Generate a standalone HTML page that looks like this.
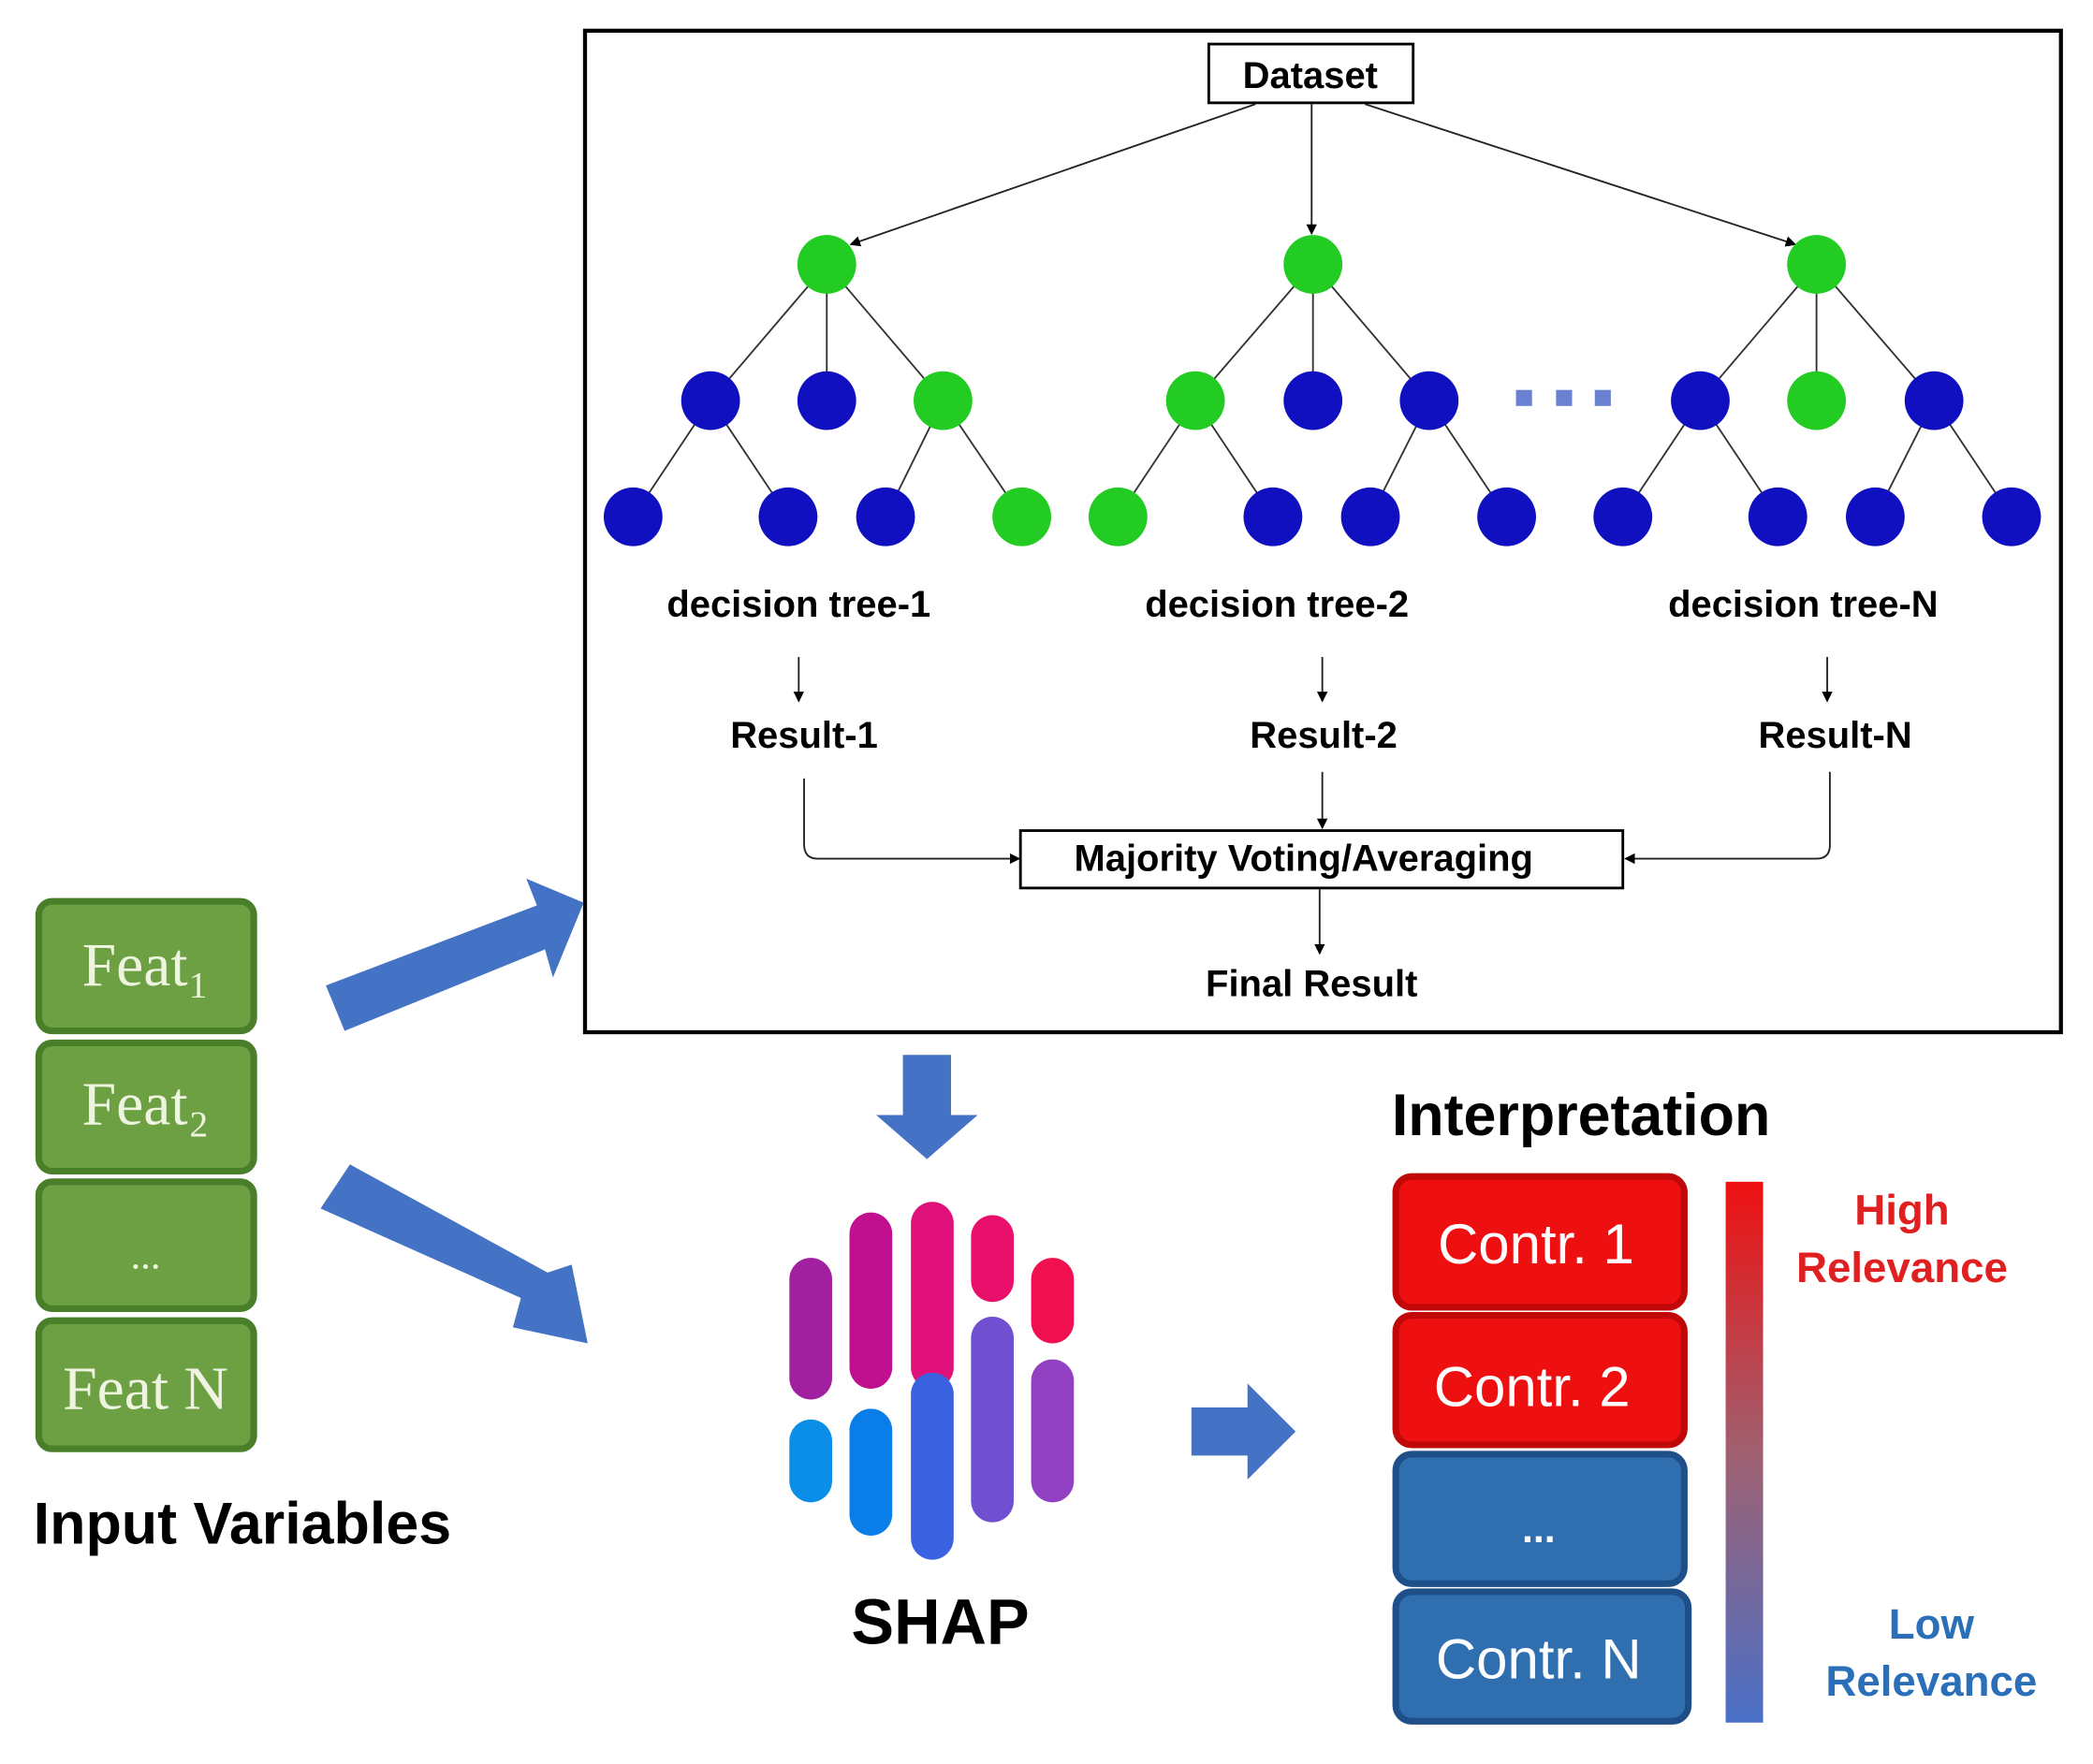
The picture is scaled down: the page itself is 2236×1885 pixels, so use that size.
<!DOCTYPE html>
<html><head><meta charset="utf-8"><style>
html,body{margin:0;padding:0;background:#fff;}
svg{display:block;}
</style></head><body>
<svg width="2236" height="1885" viewBox="0 0 1567 1321" preserveAspectRatio="none" xmlns="http://www.w3.org/2000/svg" font-family="Liberation Sans, sans-serif">
<defs>
<marker id="ah" markerWidth="8" markerHeight="8" refX="7" refY="4" orient="auto" markerUnits="userSpaceOnUse"><path d="M0,0 L8,4 L0,8 z" fill="#000"/></marker>
<linearGradient id="rel" x1="0" y1="0" x2="0" y2="1"><stop offset="0" stop-color="#ee1010"/><stop offset="0.5" stop-color="#a06070"/><stop offset="1" stop-color="#4a70c8"/></linearGradient>
</defs>
<rect x="438" y="23" width="1105" height="750" fill="#fff" stroke="#000" stroke-width="3"/>
<rect x="905" y="33" width="153" height="44" fill="#fff" stroke="#000" stroke-width="2"/>
<text x="981" y="66" font-size="28" text-anchor="middle" font-weight="bold">Dataset</text>
<g stroke="#222" stroke-width="1.3" fill="none" marker-end="url(#ah)">
<line x1="940" y1="78" x2="637" y2="183"/>
<line x1="982" y1="78" x2="982" y2="175"/>
<line x1="1022" y1="78" x2="1344" y2="183"/>
<line x1="598" y1="492" x2="598" y2="525"/>
<line x1="990" y1="492" x2="990" y2="525"/>
<line x1="1368" y1="492" x2="1368" y2="525"/>
<path d="M602,583 L602,632 Q602,643 612,643 L763,643"/>
<path d="M1370,578 L1370,633 Q1370,643 1360,643 L1217,643"/>
<line x1="990" y1="578" x2="990" y2="620"/>
<line x1="988" y1="666" x2="988" y2="714"/>
</g>
<g stroke="#333" stroke-width="1.3">
<line x1="619" y1="198" x2="532" y2="300"/><line x1="619" y1="198" x2="619" y2="300"/><line x1="619" y1="198" x2="706" y2="300"/>
<line x1="532" y1="300" x2="474" y2="387"/><line x1="532" y1="300" x2="590" y2="387"/><line x1="706" y1="300" x2="663" y2="387"/><line x1="706" y1="300" x2="765" y2="387"/>
<line x1="983" y1="198" x2="895" y2="300"/><line x1="983" y1="198" x2="983" y2="300"/><line x1="983" y1="198" x2="1070" y2="300"/>
<line x1="895" y1="300" x2="837" y2="387"/><line x1="895" y1="300" x2="953" y2="387"/><line x1="1070" y1="300" x2="1026" y2="387"/><line x1="1070" y1="300" x2="1128" y2="387"/>
<line x1="1360" y1="198" x2="1273" y2="300"/><line x1="1360" y1="198" x2="1360" y2="300"/><line x1="1360" y1="198" x2="1448" y2="300"/>
<line x1="1273" y1="300" x2="1215" y2="387"/><line x1="1273" y1="300" x2="1331" y2="387"/><line x1="1448" y1="300" x2="1404" y2="387"/><line x1="1448" y1="300" x2="1506" y2="387"/>
</g>
<g fill="#22cc22">
<circle cx="619" cy="198" r="22"/><circle cx="706" cy="300" r="22"/><circle cx="765" cy="387" r="22"/>
<circle cx="983" cy="198" r="22"/><circle cx="895" cy="300" r="22"/><circle cx="837" cy="387" r="22"/>
<circle cx="1360" cy="198" r="22"/><circle cx="1360" cy="300" r="22"/>
</g>
<g fill="#1010c0">
<circle cx="532" cy="300" r="22"/><circle cx="619" cy="300" r="22"/><circle cx="474" cy="387" r="22"/><circle cx="590" cy="387" r="22"/><circle cx="663" cy="387" r="22"/>
<circle cx="983" cy="300" r="22"/><circle cx="1070" cy="300" r="22"/><circle cx="953" cy="387" r="22"/><circle cx="1026" cy="387" r="22"/><circle cx="1128" cy="387" r="22"/>
<circle cx="1273" cy="300" r="22"/><circle cx="1448" cy="300" r="22"/><circle cx="1215" cy="387" r="22"/><circle cx="1331" cy="387" r="22"/><circle cx="1404" cy="387" r="22"/><circle cx="1506" cy="387" r="22"/>
</g>
<g fill="#6a80d0"><rect x="1135" y="292" width="12" height="12"/><rect x="1165" y="292" width="12" height="12"/><rect x="1194" y="292" width="12" height="12"/></g>
<g font-size="28" font-weight="bold" text-anchor="middle" fill="#000">
<text x="598" y="462">decision tree-1</text>
<text x="956" y="462">decision tree-2</text>
<text x="1350" y="462">decision tree-N</text>
<text x="602" y="560">Result-1</text>
<text x="991" y="560">Result-2</text>
<text x="1374" y="560">Result-N</text>
<text x="982" y="746">Final Result</text>
</g>
<rect x="764" y="622" width="451" height="43" fill="#fff" stroke="#000" stroke-width="2"/>
<text x="976" y="652" font-size="28" font-weight="bold" text-anchor="middle">Majority Voting/Averaging</text>
<g stroke="#4a7f2a" stroke-width="5" fill="#6ca043">
<rect x="29" y="675" width="161" height="97" rx="10"/>
<rect x="29" y="781" width="161" height="96" rx="10"/>
<rect x="29" y="885" width="161" height="95" rx="10"/>
<rect x="29" y="989" width="161" height="96" rx="10"/>
</g>
<g font-family="Liberation Serif, serif" font-size="46" fill="#eef4e0" text-anchor="middle">
<text x="109" y="738">Feat₁</text>
<text x="109" y="842">Feat₂</text>
<text x="109" y="950" font-size="30">...</text>
<text x="109" y="1055">Feat N</text>
</g>
<text x="25" y="1156" font-size="44" font-weight="bold">Input Variables</text>
<g fill="#4472c4">
<polygon points="244,738 402,678 394,658 437,676 414,732 408,711 258,772"/>
<polygon points="240,905 390,972 384,994 440,1006 428,947 410,953 262,872"/>
<polygon points="676,790 712,790 712,835 732,835 694,868 656,835 676,835"/>
<polygon points="892,1054 934,1054 934,1036 970,1072 934,1108 934,1090 892,1090"/>
</g>
<g stroke-linecap="round" stroke-width="32" fill="none">
<line x1="607" y1="958" x2="607" y2="1032" stroke="#a020a0"/>
<line x1="607" y1="1079" x2="607" y2="1109" stroke="#0a8ee8"/>
<line x1="652" y1="924" x2="652" y2="1024" stroke="#c0108f"/>
<line x1="652" y1="1071" x2="652" y2="1134" stroke="#0a7ee8"/>
<line x1="698" y1="916" x2="698" y2="1024" stroke="#e0107a"/>
<line x1="698" y1="1044" x2="698" y2="1152" stroke="#3a62e0"/>
<line x1="743" y1="926" x2="743" y2="959" stroke="#e8106a"/>
<line x1="743" y1="1002" x2="743" y2="1124" stroke="#7050d0"/>
<line x1="788" y1="958" x2="788" y2="990" stroke="#f01050"/>
<line x1="788" y1="1034" x2="788" y2="1109" stroke="#9040c0"/>
</g>
<text x="704" y="1231" font-size="48" font-weight="bold" text-anchor="middle">SHAP</text>
<text x="1042" y="850" font-size="44" font-weight="bold">Interpretation</text>
<g stroke-width="5">
<rect x="1045" y="881" width="216" height="98" rx="12" fill="#ee1010" stroke="#c00808"/>
<rect x="1045" y="985" width="216" height="97" rx="12" fill="#ee1010" stroke="#c00808"/>
<rect x="1045" y="1089" width="216" height="97" rx="12" fill="#2f6fb0" stroke="#1f4f88"/>
<rect x="1045" y="1192" width="219" height="97" rx="12" fill="#2f6fb0" stroke="#1f4f88"/>
</g>
<g font-size="42" fill="#fff" text-anchor="middle">
<text x="1150" y="946">Contr. 1</text>
<text x="1147" y="1053">Contr. 2</text>
<text x="1152" y="1155" font-size="30" font-weight="bold">...</text>
<text x="1152" y="1257">Contr. N</text>
</g>
<rect x="1292" y="885" width="28" height="405" fill="url(#rel)"/>
<g font-size="32" font-weight="bold" text-anchor="middle">
<text x="1424" y="917" fill="#e02020">High</text>
<text x="1424" y="960" fill="#e02020">Relevance</text>
<text x="1446" y="1227" fill="#2a6fb8">Low</text>
<text x="1446" y="1270" fill="#2a6fb8">Relevance</text>
</g>
</svg>
</body></html>
